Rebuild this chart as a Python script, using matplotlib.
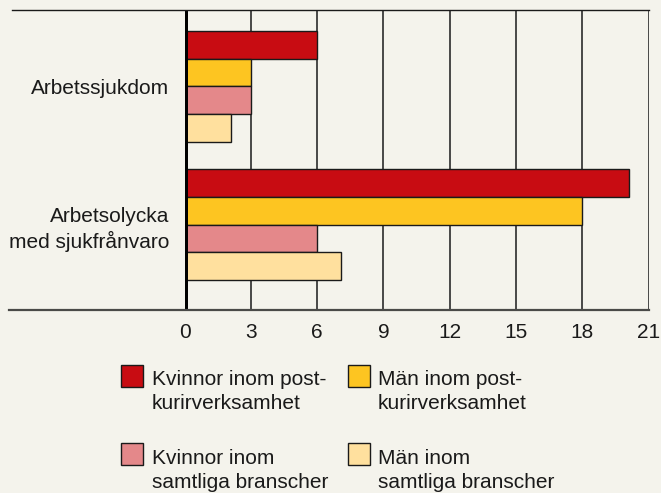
import matplotlib
matplotlib.use("Agg")
import matplotlib.pyplot as plt
from matplotlib.patches import Rectangle
from matplotlib.lines import Line2D

categories = ["Arbetssjukdom", "Arbetsolycka\nmed sjukfrånvaro"]
series_names = [["Kvinnor inom post-", "kurirverksamhet"], ["Män inom post-", "kurirverksamhet"],
                ["Kvinnor inom", "samtliga branscher"], ["Män inom", "samtliga branscher"]]
kvinnor_post = [6, 20.1]
man_post = [3, 18]
kvinnor_alla = [3, 6]
man_alla = [2.1, 7.1]
series_values = [kvinnor_post, man_post, kvinnor_alla, man_alla]
colors = ["#c80c12", "#fdc521", "#e4888a", "#ffe09e"]
xticks = [0, 3, 6, 9, 12, 15, 18, 21]

plt.rcParams['font.family'] = ['Liberation Sans', 'DejaVu Sans']
bg = "#f4f3ec"
ink = "#1a1a1a"
FS = 15
W, H = 661, 493
fig = plt.figure(figsize=(W / 100, H / 100), dpi=100, facecolor=bg)

ax = fig.add_axes([184.5 / W, 1 - 310 / H, (648.5 - 184.5) / W, 300 / H])
ax.set_facecolor(bg)

group_centers = [0, 5]
offsets = [-1.5, -0.5, 0.5, 1.5]
for s, vals in enumerate(series_values):
    ys = [c + offsets[s] for c in group_centers]
    ax.barh(ys, vals, height=1.0, color=colors[s], edgecolor=ink,
            linewidth=1.0, zorder=3)

ax.set_xlim(0, 21)
ax.set_ylim(8.09, -2.76)
for t in xticks[1:]:
    ax.axvline(t, color=ink, linewidth=1.1, zorder=1)
ax.axvline(0, color="black", linewidth=3.6, zorder=4)

for sp in ax.spines.values():
    sp.set_visible(False)
ax.set_xticks(xticks)
ax.set_xticklabels([str(t) for t in xticks], fontsize=FS, color=ink)
ax.tick_params(axis="x", length=0, pad=9)
ax.set_yticks(group_centers)
ax.set_yticklabels(categories, fontsize=FS, color=ink, linespacing=1.3)
ax.tick_params(axis="y", length=0, pad=11)

# top and bottom frame lines
fig.add_artist(Line2D([12 / W, 649 / W], [1 - 10 / H, 1 - 10 / H], color=ink, linewidth=1.0))
fig.add_artist(Line2D([9 / W, 649 / W], [1 - 310 / H, 1 - 310 / H], color="#4a4a48", linewidth=1.6))

# legend
pos = [(121, 365, 151.5, 385), (348, 365, 378, 385), (121, 443, 151.5, 464), (348, 443, 378, 464)]
for (sx, sy, tx, base), lines, col in zip(pos, series_names, colors):
    fig.add_artist(Rectangle((sx / W, 1 - (sy + 22) / H), 22 / W, 22 / H,
                             facecolor=col, edgecolor=ink, linewidth=1.0,
                             transform=fig.transFigure))
    for i, line in enumerate(lines):
        fig.text(tx / W, 1 - (base + 24 * i) / H, line, fontsize=FS, color=ink,
                 va="baseline", ha="left")

fig.savefig("out.png", dpi=100, facecolor=bg)
